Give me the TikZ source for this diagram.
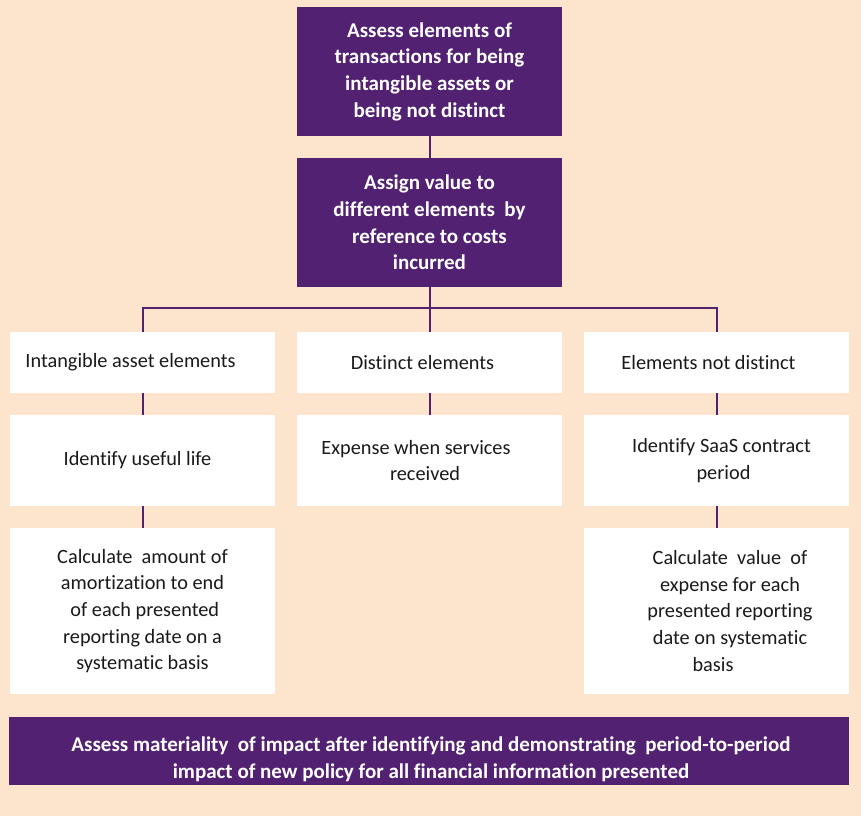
\documentclass[tikz,border=0pt]{standalone}
\usepackage{fontspec}
\setmainfont[Ligatures=NoCommon]{Carlito}
\definecolor{bgpeach}{RGB}{252,228,205}
\definecolor{deeppurple}{RGB}{82,33,113}
\definecolor{inkblack}{RGB}{26,26,26}
\tikzset{
  purplebox/.style={rectangle, fill=deeppurple, text=white, inner sep=0pt, align=center,
    minimum width=265pt, minimum height=129pt,
    font=\fontsize{21pt}{26.7pt}\selectfont\bfseries},
  whitebox/.style={rectangle, fill=white, text=inkblack, inner sep=0pt, align=center,
    minimum width=265pt, font=\fontsize{20.3pt}{26.7pt}\selectfont},
  link/.style={draw=deeppurple, line width=2pt}
}
\begin{document}
\begin{tikzpicture}[x=1pt,y=-1pt]
\fill[bgpeach] (0,0) rectangle (861,816);
\useasboundingbox (0,0) rectangle (861,816);

\node[purplebox] (assess) at (429.5,71.5) {Assess elements of\\transactions for being\\intangible assets or\\being not distinct};
\node[purplebox] (assign) at (429.5,222.5) {Assign value to\\different elements\ \ by\\reference to costs\\incurred};

\node[whitebox, minimum height=61pt] (intang) at (142.5,362.5) {Intangible asset elements\hspace*{24pt}};
\node[whitebox, minimum height=61pt] (distinct) at (429.5,362.5) {Distinct elements\hspace*{14pt}};
\node[whitebox, minimum height=61pt] (notdist) at (716.5,362.5) {Elements not distinct\hspace*{16pt}};

\node[whitebox, minimum height=91pt] (useful) at (142.5,460.5) {Identify useful life\hspace*{10pt}};
\node[whitebox, minimum height=91pt] (expense) at (429.5,460.5) {Expense when services\hspace*{27pt}\\received\hspace*{9pt}};
\node[whitebox, minimum height=91pt] (saas) at (716.5,460.5) {\hspace*{10pt}Identify SaaS contract\\\hspace*{14pt}period};

\node[whitebox, minimum height=166pt] (amort) at (142.5,611) {Calculate\ \ amount of\\amortization to end\\\ of each presented\\reporting date on a\\systematic basis};
\node[whitebox, minimum height=166pt] (calcval) at (716.5,611) {\hspace*{27pt}Calculate\ \ value\ \ of\\\hspace*{27pt}expense for each\\\hspace*{27pt}presented reporting\\\hspace*{27pt}date on systematic\\basis\hspace*{7pt}};

\node[purplebox, minimum width=840pt, minimum height=68pt] (materiality) at (429,751) {};
\node[text=white, align=center, inner sep=0pt, font=\fontsize{21pt}{26.7pt}\selectfont\bfseries] (mattext) at (431,759)
  {Assess materiality\ \ of impact after identifying and demonstrating\ \ period-to-period\\impact of new policy for all financial information presented};

\coordinate (hub) at (429.5,308);
\draw[link] (assess) -- (assign);
\draw[link] (assign) -- (hub);
\draw[link] (intang.north) |- (hub);
\draw[link] (notdist.north) |- (hub);
\draw[link] (hub) -- (distinct);
\draw[link] (intang) -- (useful);
\draw[link] (distinct) -- (expense);
\draw[link] (notdist) -- (saas);
\draw[link] (useful) -- (amort);
\draw[link] (saas) -- (calcval);
\end{tikzpicture}
\end{document}
